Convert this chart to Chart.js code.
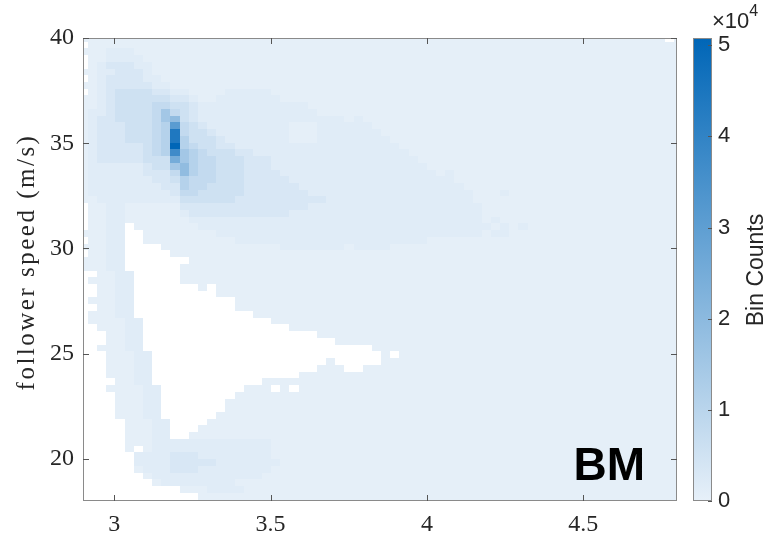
<!DOCTYPE html>
<html>
<head>
<meta charset="utf-8">
<script src="https://cdn.jsdelivr.net/npm/chart.js@4.4.0/dist/chart.umd.min.js"></script>
<style>
  html, body { margin: 0; padding: 0; background: #fff; }
</style>
</head>
<body>
<canvas id="heat" width="768" height="539"></canvas>
<script>
// histogram bins (x: headway, y: follower speed)
const xBinStart = 2.8866, xBinWidth = 0.0293;
const yBinStart = 17.75, yBinWidth = 0.32;

const xTicks = [3, 3.5, 4, 4.5];
const yTicks = [20, 25, 30, 35, 40];
const cbTicks = [0, 10000, 20000, 30000, 40000, 50000];
const cbMax = 50800;

// count levels used in the grid below, '.' = empty bin
const levelChars  = ['0', '1', '2', '3', '4', '5', '6', '7', '8', '9', 'A', 'B', 'C'];
const levelCounts = [400, 1500, 3200, 5500, 8000, 11000, 15000, 19000, 25000, 31000, 37000, 44000, 50800];

// one row per speed bin, top (40 m/s) to bottom (18 m/s), one char per headway bin
const gridRows = [
  "0000000000 0000000000 0000000000 0000000000 0000000000 0000000000 0000.0",
  ".000000000 0000000000 0000000000 0000000000 0000000000 0000000000 000000",
  "0001110000 0000000000 0000000000 0000000000 0000000000 0000000000 000000",
  ".001111000 0000000000 0000000000 0000000000 0000000000 0000000000 000000",
  ".012221100 0000000000 0000000000 0000000000 0000000000 0000000000 000000",
  "0011222100 0000000000 0000000000 0000000000 0000000000 0000000000 000000",
  ".012222110 0000000000 0000000000 0000000000 0000000000 0000000000 000000",
  "0012222211 0000000000 0000000000 0000000000 0000000000 0000000000 000000",
  ".012333322 1100001111 1000000000 0000000000 0000000000 0000000000 000000",
  "0012333333 2210011111 1100000000 0000000000 0000000000 0000000000 000000",
  "0012333344 3321111111 1111100000 0000000000 0000000000 0000000000 000000",
  "0112333346 4321111111 1111110000 0000000000 0000000000 0000000000 000000",
  "0122333346 7321111111 1111111110 1000000000 0000000000 0000000000 000000",
  "0122233345 9432111111 1110001111 1100000000 0000000000 0000000000 000000",
  "0122233345 B433211111 1110001111 1110000000 0000000000 0000000000 000000",
  "0122233345 B533321111 1110001111 1111000000 0000000000 0000000000 000000",
  "0122222345 C543322111 1111111111 1111100000 0000000000 0000000000 000000",
  "0122222345 A654333221 1111111111 1111110000 0000000000 0000000000 000000",
  "0122222333 8654433322 2111111111 1111111000 0000000000 0000000000 000000",
  "0111111233 6754433322 2111111111 1111111100 0000000000 0000000000 000000",
  "0111111222 4754433322 2211111111 1111111110 1000000000 0000000000 000000",
  "0111111122 3544433322 2221111111 1111111111 1000000000 0000000000 000000",
  "0111111112 2544333322 2222111111 1111111111 1100000000 0000000000 000000",
  "0111111111 2443333322 2222211111 1111111111 1110001000 0000000000 000000",
  "0011111111 1333333222 2222222111 1111111111 1110000000 0000000000 000000",
  ".001100000 0222222222 2222211111 1111111111 1111000000 0000000000 000000",
  ".001100000 0122222222 2221111111 1111111111 1111000000 0000000000 000000",
  ".001100000 0011111111 1111111111 1111111111 1111010000 0000000000 000000",
  ".0011.0000 0001111111 1111111111 1111111111 1111101010 0000000000 000000",
  "00011..000 0000011111 1111111111 1111111111 1111011000 0000000000 000000",
  ".0011..000 0000000111 1111111111 1111111100 0000000000 0000000000 000000",
  "00011....0 0000000000 0011111110 1111000000 0000000000 0000000000 000000",
  ".0011..... 0000000000 0000000000 0000000000 0000000000 0000000000 000000",
  "00011..... ..00000000 0000000000 0000000000 0000000000 0000000000 000000",
  "00011..... .000000000 0000000000 0000000000 0000000000 0000000000 000000",
  "..0011.... .000000000 0000000000 0000000000 0000000000 0000000000 000000",
  ".00011.... .000000000 0000000000 0000000000 0000000000 0000000000 000000",
  "..0011.... ...0.00000 0000000000 0000000000 0000000000 0000000000 000000",
  "..0011.... .....00000 0000000000 0000000000 0000000000 0000000000 000000",
  ".00011.... .......000 0000000000 0000000000 0000000000 0000000000 000000",
  "..0011.... .......000 0000000000 0000000000 0000000000 0000000000 000000",
  ".00011.... .........0 0000000000 0000000000 0000000000 0000000000 000000",
  ".000011... .......... .000000000 0000000000 0000000000 0000000000 000000",
  "..00011... .......... ...0000000 0000000000 0000000000 0000000000 000000",
  "...0011... .......... ......0000 0000000000 0000000000 0000000000 000000",
  "...0011... .......... ........00 0000000000 0000000000 0000000000 000000",
  "..00011... .......... .......... ..00000000 0000000000 0000000000 000000",
  "...00011.. .......... .......... ...0.00000 0000000000 0000000000 000000",
  "...00011.. .......... .......0.. ...0000000 0000000000 0000000000 000000",
  "...00011.. .......... ......000. .000000000 0000000000 0000000000 000000",
  "...00011.. .......... ....000000 0000000000 0000000000 0000000000 000000",
  "....0011.. .......... 0000000000 0000000000 0000000000 0000000000 000000",
  "...000011. ........00 0.0.000000 0000000000 0000000000 0000000000 000000",
  "....00011. .......000 0000000000 0000000000 0000000000 0000000000 000000",
  "....00011. ......0000 0000000000 0000000000 0000000000 0000000000 000000",
  "....00011. ......0000 0000000000 0000000000 0000000000 0000000000 000000",
  "....00011. .....00000 0000000000 0000000000 0000000000 0000000000 000000",
  ".....00011 ....000000 0000000000 0000000000 0000000000 0000000000 000000",
  ".....00011 ...0000000 0000000000 0000000000 0000000000 0000000000 000000",
  ".....00011 ..00000000 0000000000 0000000000 0000000000 0000000000 000000",
  ".....00011 1111111111 1000000000 0000000000 0000000000 0000000000 000000",
  ".....0.011 1111111111 1000000000 0000000000 0000000000 0000000000 000000",
  "......1111 2221111111 1000000000 0000000000 0000000000 0000000000 000000",
  "......1111 2222211111 1100000000 0000000000 0000000000 0000000000 000000",
  "......0111 2221111111 1000000000 0000000000 0000000000 0000000000 000000",
  ".......011 1111111111 0000000000 0000000000 0000000000 0000000000 000000",
  "........01 1111111000 0000000000 0000000000 0000000000 0000000000 000000",
  ".......... .000111100 0000000000 0000000000 0000000000 0000000000 000000",
  ".......... ...0000000 0000000000 0000000000 0000000000 0000000000 000000",
  ".......... ...0000000 0000000000 0000000000 0000000000 0000000000 000000"
];

// light blue -> MATLAB-ish blue
function cmap(v) {
  const t = Math.max(0, Math.min(1, v / cbMax));
  const r = Math.round(231 - 231 * t);
  const g = Math.round(240 - 138 * t);
  const b = Math.round(249 - 66 * t);
  return `rgb(${r},${g},${b})`;
}

const cells = [];
gridRows.forEach((row, r) => {
  const s = row.replace(/ /g, '');
  const j = gridRows.length - 1 - r;
  for (let c = 0; c < s.length; c++) {
    const k = levelChars.indexOf(s[c]);
    if (k < 0) continue;
    cells.push({ x: xBinStart + (c + 0.5) * xBinWidth, y: yBinStart + (j + 0.5) * yBinWidth, v: levelCounts[k] });
  }
});

const heatmap = {
  id: 'heatmap',
  beforeDatasetsDraw(chart) {
    const { ctx, chartArea: a, scales: { x, y } } = chart;
    ctx.save();
    ctx.beginPath();
    ctx.rect(a.left, a.top, a.width, a.height);
    ctx.clip();
    chart.data.datasets[0].data.forEach(p => {
      const l = Math.round(x.getPixelForValue(p.x - xBinWidth / 2));
      const r = Math.round(x.getPixelForValue(p.x + xBinWidth / 2));
      const t = Math.round(y.getPixelForValue(p.y + yBinWidth / 2));
      const b = Math.round(y.getPixelForValue(p.y - yBinWidth / 2));
      ctx.fillStyle = cmap(p.v);
      ctx.fillRect(l, t, r - l, b - t);
    });
    ctx.restore();
  }
};

const frame = {
  id: 'frame',
  afterDraw(chart) {
    const { ctx, chartArea: a, scales: { x, y, cb } } = chart;
    ctx.save();

    // axes box + inward ticks on all four sides
    ctx.strokeStyle = '#8a8a8a';
    ctx.lineWidth = 1;
    ctx.strokeRect(a.left + 0.5, a.top + 0.5, a.width - 1, a.height - 1);
    ctx.strokeStyle = '#555';
    ctx.beginPath();
    xTicks.forEach(v => {
      const px = Math.round(x.getPixelForValue(v)) + 0.5;
      ctx.moveTo(px, a.bottom); ctx.lineTo(px, a.bottom - 6);
      ctx.moveTo(px, a.top); ctx.lineTo(px, a.top + 6);
    });
    yTicks.forEach(v => {
      const py = Math.round(y.getPixelForValue(v)) + 0.5;
      ctx.moveTo(a.left, py); ctx.lineTo(a.left + 6, py);
      ctx.moveTo(a.right, py); ctx.lineTo(a.right - 6, py);
    });
    ctx.stroke();

    // colorbar
    const bx = a.right + 16, bw = 19;
    const top = cb.getPixelForValue(cbMax), bot = cb.getPixelForValue(0);
    const grad = ctx.createLinearGradient(0, bot, 0, top);
    grad.addColorStop(0, cmap(0));
    grad.addColorStop(1, cmap(cbMax));
    ctx.fillStyle = grad;
    ctx.fillRect(bx, top, bw, bot - top);
    ctx.strokeStyle = '#8a8a8a';
    ctx.strokeRect(bx + 0.5, top + 0.5, bw - 1, bot - top - 1);
    ctx.strokeStyle = '#555';
    ctx.beginPath();
    cbTicks.forEach(v => {
      const py = Math.round(cb.getPixelForValue(v)) + 0.5;
      ctx.moveTo(bx + bw, py); ctx.lineTo(bx + bw - 4, py);
    });
    ctx.stroke();

    // exponent label
    ctx.fillStyle = '#262626';
    ctx.textAlign = 'left';
    ctx.textBaseline = 'alphabetic';
    ctx.font = '22px "Liberation Sans"';
    ctx.fillText('×10', 712, 28);
    const w = ctx.measureText('×10').width;
    ctx.font = '16px "Liberation Sans"';
    ctx.fillText('4', 712 + w, 16);

    // colorbar title
    ctx.save();
    ctx.translate(757, 270);
    ctx.rotate(-Math.PI / 2);
    ctx.textAlign = 'center';
    ctx.textBaseline = 'middle';
    ctx.font = '23px "Liberation Sans"';
    ctx.fillText('Bin Counts', 0, 0);
    ctx.restore();

    // y axis title
    ctx.save();
    ctx.translate(27, 262);
    ctx.rotate(-Math.PI / 2);
    ctx.textAlign = 'center';
    ctx.textBaseline = 'middle';
    ctx.font = '25px "Liberation Serif"';
    ctx.letterSpacing = '2.5px';
    ctx.fillText('follower speed (m/s)', 0, 0);
    ctx.restore();

    // panel tag
    ctx.fillStyle = '#000';
    ctx.textAlign = 'right';
    ctx.font = 'bold 46px "Liberation Sans"';
    ctx.fillText('BM', 645, 480);

    ctx.restore();
  }
};

const tickFont = { family: 'Liberation Serif', size: 24 };

// pin the axis boxes so the plot area sits where the reference has it
function noPad(s) {
  s.paddingTop = 0; s.paddingBottom = 0; s.paddingLeft = 0; s.paddingRight = 0;
}

new Chart(document.getElementById('heat'), {
  type: 'scatter',
  data: {
    datasets: [{
      label: 'BM',
      data: cells,
      pointRadius: 0,
      pointHoverRadius: 0,
      showLine: false
    }]
  },
  options: {
    responsive: false,
    devicePixelRatio: 1,
    animation: false,
    events: [],
    layout: { autoPadding: false, padding: { top: 38, left: 0, right: 0, bottom: 0 } },
    plugins: { legend: { display: false }, tooltip: { enabled: false } },
    scales: {
      x: {
        type: 'linear', min: 2.9, max: 4.8,
        afterBuildTicks: s => { s.ticks = xTicks.map(v => ({ value: v })); },
        afterFit: s => { s.height = 38; noPad(s); },
        grid: { display: false, drawTicks: false },
        border: { display: false },
        ticks: { padding: 9, autoSkip: false, maxRotation: 0, color: '#262626', font: tickFont, callback: v => String(v) }
      },
      y: {
        type: 'linear', min: 18, max: 40,
        afterBuildTicks: s => { s.ticks = yTicks.map(v => ({ value: v })); },
        afterFit: s => { s.width = 83; noPad(s); },
        grid: { display: false, drawTicks: false },
        border: { display: false },
        ticks: { padding: 9, autoSkip: false, color: '#262626', font: tickFont, callback: v => String(v) }
      },
      cb: {
        type: 'linear', position: 'right', min: 0, max: cbMax,
        afterBuildTicks: s => { s.ticks = cbTicks.map(v => ({ value: v })); },
        afterFit: s => { s.width = 91; noPad(s); },
        grid: { display: false, drawTicks: false },
        border: { display: false },
        ticks: { padding: 41, autoSkip: false, color: '#262626', font: { family: 'Liberation Sans', size: 22 }, callback: v => String(v / 10000) }
      }
    }
  },
  plugins: [heatmap, frame]
});
</script>
</body>
</html>
